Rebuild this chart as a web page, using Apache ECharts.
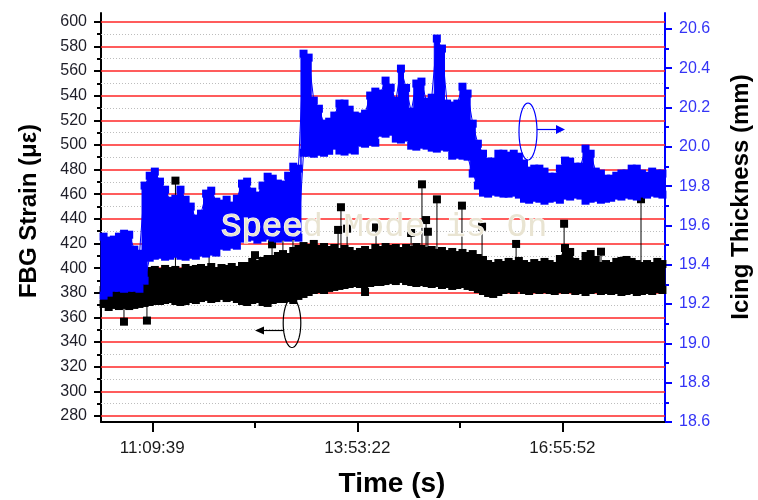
<!DOCTYPE html>
<html>
<head>
<meta charset="utf-8">
<script src="https://cdn.jsdelivr.net/npm/echarts@6.0.0/dist/echarts.min.js"></script>
<style>
  html, body { margin: 0; padding: 0; background: #ffffff; }
  #chart { width: 758px; height: 500px; }
</style>
</head>
<body>
<div id="chart"></div>
<script>
// ---- time axis (sample-index scale, labelled with clock times) ----
const timeTickPos = [250, 1250, 2250];
const timeTickLabels = ['11:09:39', '13:53:22', '16:55:52'];
const timeMinorPos = [750, 1750];

// ---- left axis: FBG strain ----
const strainTicks = [280, 300, 320, 340, 360, 380, 400, 420, 440, 460, 480, 500, 520, 540, 560, 580, 600];
const strainMinor = [290, 310, 330, 350, 370, 390, 410, 430, 450, 470, 490, 510, 530, 550, 570, 590];

// ---- right axis: icing thickness ----
const thickTicks = [18.6, 18.8, 19.0, 19.2, 19.4, 19.6, 19.8, 20.0, 20.2, 20.4, 20.6];
const thickMinor = [18.7, 18.9, 19.1, 19.3, 19.5, 19.7, 19.9, 20.1, 20.3, 20.5];

// samples are evenly spaced along the time axis
const sampleStart = 12.5;
const sampleStep = 25;

// FBG strain: upper and lower edge of the dense scatter at each sample
const strainHigh = [
  382.2, 383.0, 381.4, 383.9, 382.2, 381.4, 383.0, 382.2, 383.9, 397.6,
  398.5, 396.8, 399.3, 397.6, 398.5, 396.8, 400.1, 398.5, 399.3, 400.1,
  398.5, 400.9, 397.6, 400.1, 399.3, 400.9, 398.5, 401.7, 401.7, 405.0,
  403.3, 405.8, 407.4, 407.4, 409.8, 411.4, 409.0, 413.9, 415.5, 417.9,
  416.3, 419.6, 415.5, 417.1, 414.7, 416.3, 413.1, 415.5, 413.9, 411.4,
  413.1, 414.7, 412.3, 416.3, 414.7, 417.1, 415.5, 416.3, 413.9, 416.3,
  414.7, 417.1, 415.5, 413.9, 414.7, 412.3, 413.9, 411.4, 413.1, 410.6,
  412.3, 409.8, 411.4, 408.2, 406.6, 403.3, 401.7, 404.1, 402.5, 405.0,
  403.3, 405.8, 403.3, 401.7, 404.1, 402.5, 405.0, 403.3, 401.7, 407.4,
  416.3, 413.1, 405.0, 403.3, 409.8, 411.4, 406.6, 401.7, 403.3, 401.7,
  405.0, 405.8, 406.6, 405.0, 403.3, 401.7, 403.3, 401.7, 405.0, 403.3
];
const strainLow = [
  370.9, 368.4, 370.1, 369.2, 370.1, 369.2, 370.1, 370.9, 371.7, 372.5,
  373.3, 373.3, 374.1, 374.9, 373.3, 372.5, 373.3, 374.9, 374.1, 375.7,
  376.6, 374.9, 375.7, 377.4, 375.7, 376.6, 374.9, 373.3, 372.5, 374.1,
  374.9, 372.5, 371.7, 374.1, 374.9, 374.9, 375.7, 374.1, 377.4, 379.0,
  380.6, 382.2, 383.0, 382.2, 383.9, 384.7, 385.5, 386.3, 387.1, 387.9,
  387.1, 380.6, 387.9, 388.7, 388.7, 389.5, 390.4, 389.5, 391.2, 389.5,
  388.7, 387.9, 388.7, 387.9, 387.1, 387.9, 386.3, 387.1, 385.5, 386.3,
  387.1, 385.5, 384.7, 383.0, 381.4, 379.8, 379.0, 380.6, 382.2, 383.0,
  382.2, 383.9, 382.2, 381.4, 383.0, 382.2, 383.0, 382.2, 381.4, 383.0,
  382.2, 383.0, 381.4, 382.2, 380.6, 382.2, 383.0, 381.4, 382.2, 381.4,
  382.2, 380.6, 381.4, 382.2, 380.6, 381.4, 382.2, 381.4, 383.0, 382.2
];

// isolated strain readings away from the main trace
const strainSpikeX = [112, 224, 363, 527, 751, 834, 887, 936, 1156, 1170, 1200, 1341, 1512, 1565, 1585, 1594, 1638, 1760, 1858, 2024, 2258, 2438, 2555, 2633];
const strainSpikeValue = [356.5, 357.4, 471.0, 415.0, 410.5, 419.3, 426.0, 426.0, 431.0, 449.4, 432.0, 433.0, 428.5, 468.0, 439.0, 429.5, 455.8, 450.7, 433.6, 419.6, 436.0, 413.3, 406.0, 455.9];
const strainSpikeBase = [370.0, 371.0, 398.0, 400.0, 402.0, 407.0, 410.0, 412.0, 414.0, 414.0, 414.0, 415.0, 415.0, 415.0, 414.0, 414.0, 413.0, 411.0, 407.0, 405.0, 404.0, 404.0, 403.0, 402.0];

// icing thickness: upper and lower edge of the dense scatter at each sample
const thickHigh = [
  19.543, 19.523, 19.528, 19.543, 19.558, 19.553, 19.477, 19.456, 19.803, 19.853,
  19.874, 19.823, 19.782, 19.726, 19.736, 19.782, 19.731, 19.696, 19.635, 19.660,
  19.762, 19.777, 19.721, 19.711, 19.731, 19.701, 19.736, 19.813, 19.823, 19.772,
  19.752, 19.803, 19.848, 19.838, 19.813, 19.808, 19.853, 19.899, 19.889, 20.474,
  20.454, 20.235, 20.194, 20.118, 20.128, 20.159, 20.220, 20.220, 20.189, 20.159,
  20.154, 20.169, 20.261, 20.281, 20.271, 20.337, 20.301, 20.235, 20.398, 20.300,
  20.179, 20.322, 20.332, 20.230, 20.250, 20.551, 20.500, 20.220, 20.210, 20.220,
  20.306, 20.271, 20.118, 20.016, 19.965, 19.925, 19.925, 19.965, 19.965, 19.955,
  19.965, 19.950, 19.915, 19.879, 19.889, 19.889, 19.874, 19.848, 19.848, 19.889,
  19.930, 19.925, 19.899, 19.899, 19.991, 19.965, 19.874, 19.864, 19.838, 19.838,
  19.853, 19.864, 19.864, 19.889, 19.889, 19.864, 19.853, 19.874, 19.864, 19.864
];
const thickLow = [
  19.243, 19.258, 19.283, 19.283, 19.278, 19.283, 19.283, 19.278, 19.319, 19.436,
  19.446, 19.451, 19.441, 19.446, 19.456, 19.446, 19.441, 19.451, 19.446, 19.462,
  19.457, 19.467, 19.462, 19.497, 19.492, 19.502, 19.497, 19.533, 19.538, 19.543,
  19.528, 19.538, 19.548, 19.538, 19.533, 19.543, 19.538, 19.548, 19.538, 19.970,
  19.970, 19.965, 19.975, 19.970, 19.980, 20.006, 19.981, 19.976, 19.986, 19.981,
  20.021, 20.016, 20.026, 20.021, 20.072, 20.067, 20.077, 20.042, 20.037, 20.047,
  20.006, 20.001, 20.011, 20.006, 19.996, 19.991, 20.001, 19.996, 19.955, 19.960,
  19.955, 19.950, 19.864, 19.803, 19.767, 19.762, 19.772, 19.767, 19.762, 19.762,
  19.767, 19.757, 19.736, 19.731, 19.741, 19.736, 19.726, 19.736, 19.741, 19.731,
  19.752, 19.747, 19.757, 19.752, 19.726, 19.736, 19.741, 19.731, 19.736, 19.741,
  19.752, 19.747, 19.757, 19.752, 19.747, 19.762, 19.757, 19.767, 19.762, 19.757
];

const FONT = '"Liberation Sans", Arial, sans-serif';
const BLUE = '#0000ff';

const sampleX = strainLow.map((_, i) => sampleStart + i * sampleStep);

// one trace drawn as: blocky filled band between its edges + square markers on both edges
function traceSeries(name, low, high, color, yAxisIndex, z) {
  const half = sampleStep / 2;
  const edge = {
    type: 'line',
    yAxisIndex: yAxisIndex,
    symbol: 'rect',
    symbolSize: 8,
    showSymbol: true,
    itemStyle: { color: color },
    lineStyle: { color: color, width: 1 },
    emphasis: { disabled: true },
    silent: true,
    z: z
  };
  return [
    {
      name: name + ' band',
      type: 'custom',
      yAxisIndex: yAxisIndex,
      silent: true,
      z: z,
      data: [[sampleX[0], low[0]]],
      renderItem: (params, api) => {
        const upper = [];
        const lower = [];
        sampleX.forEach((x, i) => {
          upper.push(api.coord([x - half, high[i]]), api.coord([x + half, high[i]]));
          lower.push(api.coord([x - half, low[i]]), api.coord([x + half, low[i]]));
        });
        return {
          type: 'polygon',
          shape: { points: upper.concat(lower.reverse()) },
          style: { fill: color, stroke: color, lineWidth: 1 }
        };
      }
    },
    Object.assign({}, edge, { name: name + ' lower', data: sampleX.map((x, i) => [x, low[i]]) }),
    Object.assign({}, edge, { name: name, data: sampleX.map((x, i) => [x, high[i]]) })
  ];
}

// stems for isolated strain readings (broken between readings)
const stemData = [];
strainSpikeX.forEach((x, k) => {
  stemData.push([x, strainSpikeBase[k]]);
  stemData.push([x, strainSpikeValue[k]]);
  stemData.push([x, '-']);
});

// reference lines: red at labelled strain values, dotted grey in between
const gridLineData = strainTicks.map(v => ({
  yAxis: v, lineStyle: { color: '#ff2626', width: 1.5, type: 'solid' }
})).concat(strainMinor.map(v => ({
  yAxis: v, lineStyle: { color: '#bdbdbd', width: 1, type: [1, 2] }
})));

function ellipsePoints(cx, cy, rx, ry) {
  const pts = [];
  for (let k = 0; k < 48; k++) {
    const a = (k / 48) * Math.PI * 2;
    pts.push([cx + rx * Math.cos(a), cy + ry * Math.sin(a)]);
  }
  return pts;
}

const strainRange = { min: 275.08, max: 607.06 };
const thickRange = { min: 18.6, max: 20.681 };

const option = {
  animation: false,
  backgroundColor: '#ffffff',
  textStyle: { fontFamily: FONT },
  grid: { left: 101, right: 93, top: 13, bottom: 78, containLabel: false, outerBoundsMode: 'none' },
  xAxis: [
    {
      type: 'value', min: 0, max: 2750, position: 'bottom',
      axisLine: { show: true, onZero: false, lineStyle: { color: '#000', width: 2 } },
      axisTick: { show: true, inside: false, length: 10, customValues: timeTickPos, lineStyle: { color: '#000', width: 2 } },
      axisLabel: {
        show: true, customValues: timeTickPos, margin: 18, fontSize: 17, color: '#1a1a1a', fontFamily: FONT,
        formatter: v => { const k = timeTickPos.indexOf(v); return k >= 0 ? timeTickLabels[k] : ''; }
      },
      splitLine: { show: false }
    },
    {
      type: 'value', min: 0, max: 2750, position: 'bottom',
      axisLine: { show: false, onZero: false },
      axisTick: { show: true, inside: false, length: 6, customValues: timeMinorPos, lineStyle: { color: '#000', width: 2 } },
      axisLabel: { show: false },
      splitLine: { show: false }
    }
  ],
  yAxis: [
    {
      type: 'value', min: strainRange.min, max: strainRange.max, position: 'left',
      axisLine: { show: true, onZero: false, lineStyle: { color: '#000', width: 2 } },
      axisTick: { show: true, inside: false, length: 7, customValues: strainTicks, lineStyle: { color: '#000', width: 2 } },
      axisLabel: { show: true, customValues: strainTicks, margin: 14, fontSize: 16, color: '#1e1e28', fontFamily: FONT },
      splitLine: { show: false }
    },
    {
      type: 'value', min: thickRange.min, max: thickRange.max, position: 'right',
      axisLine: { show: true, onZero: false, lineStyle: { color: BLUE, width: 2 } },
      axisTick: { show: true, inside: false, length: 7, customValues: thickTicks, lineStyle: { color: BLUE, width: 2 } },
      axisLabel: {
        show: true, customValues: thickTicks, margin: 14, fontSize: 16, color: '#3434f6', fontFamily: FONT,
        formatter: v => v.toFixed(1)
      },
      splitLine: { show: false }
    },
    {
      type: 'value', min: strainRange.min, max: strainRange.max, position: 'left',
      axisLine: { show: false, onZero: false },
      axisTick: { show: true, inside: false, length: 4, customValues: strainMinor, lineStyle: { color: '#000', width: 2 } },
      axisLabel: { show: false },
      splitLine: { show: false }
    },
    {
      type: 'value', min: thickRange.min, max: thickRange.max, position: 'right',
      axisLine: { show: false, onZero: false },
      axisTick: { show: true, inside: false, length: 4, customValues: thickMinor, lineStyle: { color: BLUE, width: 2 } },
      axisLabel: { show: false },
      splitLine: { show: false }
    }
  ],
  series: [
    {
      name: 'reference lines',
      type: 'line',
      yAxisIndex: 0,
      data: [[0, strainRange.min]],
      symbol: 'none',
      lineStyle: { width: 0 },
      silent: true,
      z: 1,
      markLine: {
        z: 1,
        silent: true,
        symbol: ['none', 'none'],
        label: { show: false },
        emphasis: { disabled: true },
        data: gridLineData
      }
    },
    ...traceSeries('FBG Strain', strainLow, strainHigh, '#000000', 0, 2),
    {
      name: 'FBG Strain stems',
      type: 'line',
      yAxisIndex: 0,
      data: stemData,
      showSymbol: false,
      symbol: 'none',
      connectNulls: false,
      lineStyle: { color: '#000', width: 1 },
      silent: true,
      z: 2
    },
    {
      name: 'FBG Strain readings',
      type: 'scatter',
      yAxisIndex: 0,
      data: strainSpikeX.map((x, k) => [x, strainSpikeValue[k]]),
      symbol: 'rect',
      symbolSize: 8,
      itemStyle: { color: '#000', opacity: 1 },
      silent: true,
      z: 2
    },
    ...traceSeries('Icing Thickness', thickLow, thickHigh, BLUE, 1, 3)
  ],
  graphic: [
    {
      type: 'text', x: 29, y: 211, rotation: Math.PI / 2, z: 20,
      style: { text: 'FBG Strain (με)', font: 'bold 24px ' + FONT, fill: '#000',
               textAlign: 'center', textVerticalAlign: 'middle', align: 'center', verticalAlign: 'middle' }
    },
    {
      type: 'text', x: 741, y: 197, rotation: Math.PI / 2, z: 20,
      style: { text: 'Icing Thickness (mm)', font: 'bold 24px ' + FONT, fill: '#000',
               textAlign: 'center', textVerticalAlign: 'middle', align: 'center', verticalAlign: 'middle' }
    },
    {
      type: 'text', x: 392, y: 484, z: 20,
      style: { text: 'Time (s)', font: 'bold 28px ' + FONT, fill: '#000',
               textAlign: 'center', textVerticalAlign: 'middle', align: 'center', verticalAlign: 'middle' }
    },
    {
      type: 'text', x: 221, y: 227, z: 100,
      style: { text: 'Speed Mode is On', font: '34px "Liberation Mono", "Courier New", monospace',
               fill: '#e9e4d2', stroke: '#ffffff', lineWidth: 1.2,
               textAlign: 'left', textVerticalAlign: 'middle', align: 'left', verticalAlign: 'middle' }
    },
    {
      type: 'polygon', z: 30, shape: { points: ellipsePoints(528, 131.5, 9, 28.5) },
      style: { fill: 'none', stroke: BLUE, lineWidth: 1.2 }
    },
    {
      type: 'line', z: 30, shape: { x1: 537, y1: 129.5, x2: 557, y2: 129.5 },
      style: { stroke: BLUE, lineWidth: 1.2 }
    },
    {
      type: 'polygon', z: 30, shape: { points: [[556, 125], [565, 129.5], [556, 134]] },
      style: { fill: BLUE }
    },
    {
      type: 'polygon', z: 30, shape: { points: ellipsePoints(292, 323, 8.8, 24.5) },
      style: { fill: 'none', stroke: '#000', lineWidth: 1.2 }
    },
    {
      type: 'line', z: 30, shape: { x1: 283, y1: 330.5, x2: 263, y2: 330.5 },
      style: { stroke: '#000', lineWidth: 1.2 }
    },
    {
      type: 'polygon', z: 30, shape: { points: [[255, 330.5], [264, 326.5], [264, 334.5]] },
      style: { fill: '#000' }
    }
  ]
};

const chart = echarts.init(document.getElementById('chart'), null, { renderer: 'canvas' });
chart.setOption(option);
</script>
</body>
</html>
